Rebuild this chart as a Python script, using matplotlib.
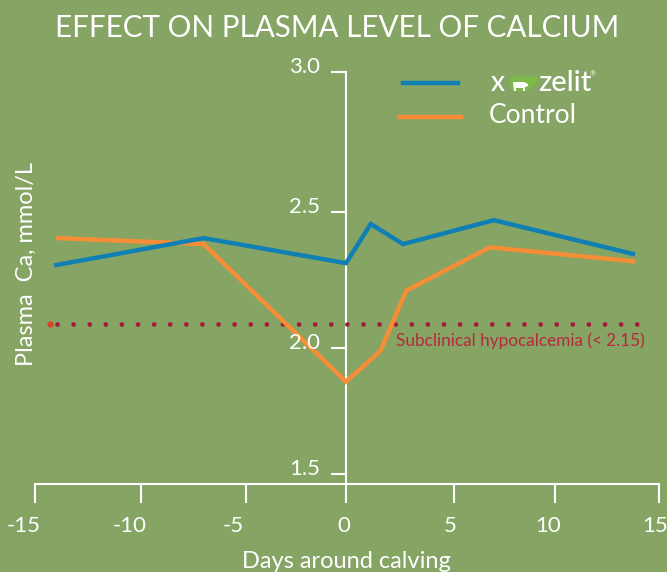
import matplotlib
matplotlib.use('Agg')
import matplotlib.pyplot as plt
import numpy as np
from matplotlib.lines import Line2D
from matplotlib.patches import Polygon

plt.rcParams['font.family'] = ['Lato', 'DejaVu Sans']

W, H = 667, 572
BG = '#86A463'
BLUE = '#1080B4'
ORANGE = '#F58E36'
RED = '#A6193A'

days_xzelit = [-14, -7, 0, 1.15, 2.65, 7, 13.75]
ca_xzelit = [2.305, 2.404, 2.312, 2.456, 2.382, 2.47, 2.346]
days_control = [-13.9, -7, 0, 1.6, 2.8, 6.8, 13.75]
ca_control = [2.404, 2.382, 1.866, 1.989, 2.211, 2.37, 2.319]
threshold_days = [-13.94, 14.0]
threshold_ca = [2.09, 2.09]
threshold_start = [-14.29]

x_ticks = [-15, -10, -5, 0, 5, 10, 15]
x_labels = ['-15', '-10', '-5', '0', '5', '10', '15']
y_ticks = [1.5, 2.0, 2.5, 3.0]
y_labels = ['1.5', '2.0', '2.5', '3.0']

# the axes in the picture are hand drawn, ticks are not evenly spaced
x_knots = [-15, -10, -5, 0, 5, 10, 15]
x_pix = [35, 141, 245.5, 346, 453.6, 554.5, 659]
y_knots = [1.459, 1.5, 2.0, 2.5, 3.0]
y_pix = [484.3, 474, 348, 212, 72]


def fig_xy(px, py):
    return px / W, 1 - py / H


fig = plt.figure(figsize=(W / 100, H / 100), dpi=100, facecolor=BG)
ax = fig.add_axes([35 / W, 1 - 484.3 / H, (659 - 35) / W, (484.3 - 72) / H])
ax.set_facecolor(BG)
ax.set_xscale('function', functions=(lambda v: np.interp(v, x_knots, x_pix),
                                     lambda v: np.interp(v, x_pix, x_knots)))
ax.set_yscale('function', functions=(lambda v: -np.interp(v, y_knots, y_pix),
                                     lambda v: np.interp(-v, y_pix[::-1], y_knots[::-1])))
ax.set_xlim(-15, 15)
ax.set_ylim(1.459, 3.0)

ax.plot(threshold_days, threshold_ca, color=RED, lw=3.4, linestyle=(0, (0.01, 3.4)),
        dash_capstyle='round', zorder=2)
ax.plot(threshold_start, threshold_ca[:1], 'o', color='#D8402A', ms=4.4, mew=0, zorder=2)
ax.plot(days_control, ca_control, color=ORANGE, lw=3.2, solid_joinstyle='miter', zorder=3)
ax.plot(days_xzelit, ca_xzelit, color=BLUE, lw=3.2, solid_joinstyle='miter', zorder=3)

for side in ['top', 'right']:
    ax.spines[side].set_visible(False)
ax.spines['left'].set_position(('data', 0))
ax.spines['left'].set_zorder(1)
for side in ['left', 'bottom']:
    ax.spines[side].set_color('white')
    ax.spines[side].set_linewidth(1.5)
ax.set_xticks(x_ticks)
ax.set_yticks(y_ticks)
ax.minorticks_off()
ax.tick_params(axis='x', length=13.7, width=1.5, color='white', labelbottom=False)
ax.tick_params(axis='y', length=11, width=1.5, color='white', labelleft=False)

x_offsets = [-11, -11, -12, -2, -3.6, -6.5, -4]
for v, lab, dx in zip(x_ticks, x_labels, x_offsets):
    ax.annotate(lab, (v, 0), xycoords=('data', 'axes fraction'), xytext=(dx * 0.72, -42 * 0.72),
                textcoords='offset points', ha='center', va='center', color='white', fontsize=16)
for v, lab in zip(y_ticks, y_labels):
    ax.annotate(lab, (0, v), xytext=(-26 * 0.72, 5 * 0.72), textcoords='offset points',
                ha='right', va='center', color='white', fontsize=16)

fig.text(*fig_xy(337, 28), 'EFFECT ON PLASMA LEVEL OF CALCIUM', ha='center', va='center',
         color='white', fontsize=21.3)
fig.text(*fig_xy(346, 562), 'Days around calving', ha='center', va='center', color='white',
         fontsize=17)
fig.text(*fig_xy(26, 264), 'Plasma  Ca, mmol/L', ha='center', va='center', rotation=90,
         color='white', fontsize=17)
fig.text(*fig_xy(396, 341), 'Subclinical hypocalcemia (< 2.15)', ha='left', va='center',
         color='#B5293D', fontsize=12.3)

fig.add_artist(Line2D([403 / W, 458 / W], [1 - 83 / H] * 2, color=BLUE, lw=3.2))
fig.add_artist(Line2D([400 / W, 461 / W], [1 - 116.5 / H] * 2, color=ORANGE, lw=3.2))

fig.text(*fig_xy(491, 91), 'x', ha='left', va='baseline', color='white', fontsize=20,
         fontweight='medium')
fig.text(*fig_xy(538, 91), 'zelit', ha='left', va='baseline', color='white', fontsize=21,
         fontweight='medium')
fig.text(*fig_xy(590, 76), '\u00ae', ha='left', va='baseline', color='white', fontsize=5)
fig.text(*fig_xy(489, 123), 'Control', ha='left', va='baseline', color='white', fontsize=19)

# cow logo between x and zelit
icon = [(510, 77), (530, 76), (537, 77), (537, 84), (531, 87), (528, 91), (512, 91), (510, 84)]
cow = [(513, 82), (524, 82), (528, 84), (528, 86), (525, 87), (525, 91), (523, 91),
       (523, 88), (516, 88), (516, 91), (514, 91)]
fig.add_artist(Polygon([fig_xy(*p) for p in icon], closed=True, color='#7DB84B', lw=0,
                       transform=fig.transFigure))
fig.add_artist(Polygon([fig_xy(*p) for p in cow], closed=True, color='white', lw=0,
                       transform=fig.transFigure))

fig.savefig('out.png', dpi=100, facecolor=BG)
